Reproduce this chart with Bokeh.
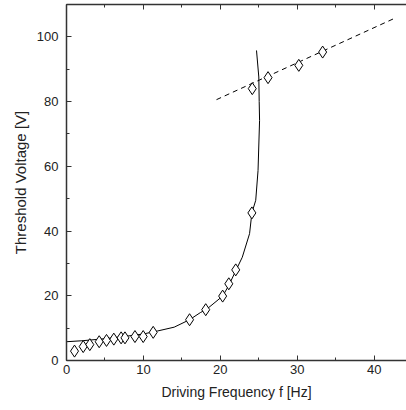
from bokeh.plotting import figure
from bokeh.models import LinearAxis, SingleIntervalTicker, Range1d, CustomLabelingPolicy
from bokeh.embed import file_html
from bokeh.resources import INLINE

# measured threshold voltages
freq = [1.04, 2.17, 3.03, 4.25, 5.2, 6.15, 7.1, 7.6, 8.9, 9.97, 11.27,
        16.0, 18.1, 20.3, 21.1, 22.0, 24.1, 24.15, 26.2, 30.2, 33.3]
volt = [2.9, 4.3, 4.9, 5.8, 6.2, 6.6, 7.0, 7.0, 7.4, 7.4, 8.7,
        12.6, 15.7, 19.9, 23.7, 28.0, 45.6, 84.0, 87.4, 91.2, 95.3]

# solid theory curve
curve_x = [0, 2, 4.4, 6, 8.75, 10, 11.8, 14, 16, 17.4, 18.2, 20.3, 21.1, 22,
           22.85, 23.8, 24.1, 24.6, 24.9, 25.1, 25.05, 25.0, 24.7]
curve_y = [5.8, 6.1, 6.6, 7.0, 7.8, 8.2, 9.1, 10.3, 12.6, 14.8, 15.8, 19.9,
           23.2, 27.7, 31.9, 39.2, 45.6, 49.5, 58.7, 74.2, 80, 87.6, 95.8]

# dashed linear fit
fit_x = [19.5, 42.8]
fit_y = [80.6, 105.9]

FONT = "Liberation Sans"
INK = "#222222"

p = figure(width=406, height=410, output_backend="svg", toolbar_location=None,
           x_range=Range1d(0, 44.2), y_range=Range1d(0, 110.0),
           min_border_left=66, min_border_right=0, min_border_top=4,
           min_border_bottom=50, x_axis_location=None, y_axis_location=None)
p.grid.visible = False
p.outline_line_color = None

def style(ax):
    ax.axis_line_color = "#333333"
    ax.axis_line_width = 1.5
    ax.major_tick_in = 5
    ax.major_tick_out = 0
    ax.minor_tick_in = 3
    ax.minor_tick_out = 0
    ax.major_tick_line_color = "#333333"
    ax.minor_tick_line_color = "#333333"
    ax.major_label_text_font = FONT
    ax.major_label_text_color = INK
    ax.major_label_text_font_size = "13px"
    ax.axis_label_text_font = FONT
    ax.axis_label_text_font_style = "normal"
    ax.axis_label_text_color = INK
    ax.axis_label_text_font_size = "14px"

xb = LinearAxis(ticker=SingleIntervalTicker(interval=10, num_minor_ticks=2),
                axis_label="Driving Frequency f [Hz]")
style(xb)
xb.major_label_standoff = 4
xb.axis_label_standoff = 7
p.add_layout(xb, "below")

yl = LinearAxis(ticker=SingleIntervalTicker(interval=20, num_minor_ticks=2),
                axis_label="Threshold Voltage [V]")
style(yl)
yl.axis_label_text_font_size = "15px"
yl.major_label_standoff = 8
yl.axis_label_standoff = 5
p.add_layout(yl, "left")

# top frame edge with ticks only (no labels)
xt = LinearAxis(ticker=SingleIntervalTicker(interval=10, num_minor_ticks=2))
style(xt)
xt.major_label_text_font_size = "0px"
xt.major_label_standoff = 0
xt.major_label_policy = CustomLabelingPolicy(code="""
    const all = [...indices];
    for (const i of all) indices.unset(i);
    return indices;
""")
p.add_layout(xt, "above")

p.line(curve_x, curve_y, line_color="black", line_width=1)
p.line(fit_x, fit_y, line_color="black", line_width=1, line_dash="5 4")
p.scatter(freq, volt, marker="diamond", size=12, fill_color="white",
          line_color="black", line_width=1)

open("out.html", "w").write(file_html(p, INLINE))
